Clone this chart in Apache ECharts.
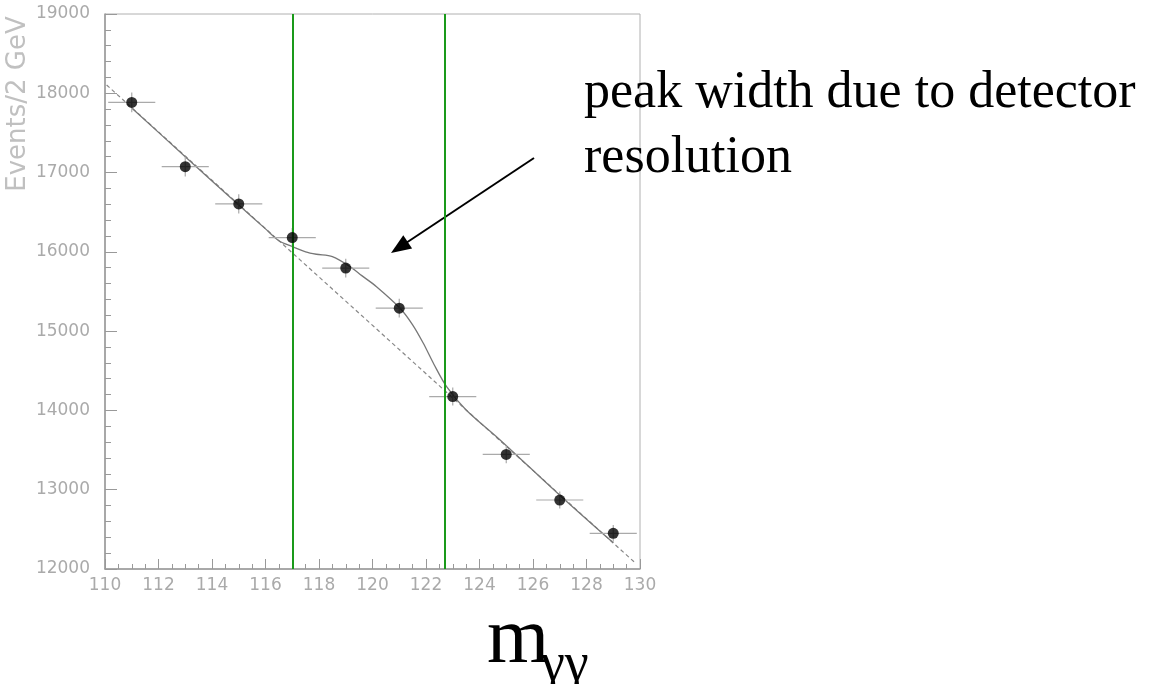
<!DOCTYPE html>
<html>
<head>
<meta charset="utf-8">
<script src="https://cdn.jsdelivr.net/npm/echarts@6/dist/echarts.min.js"></script>
<style>
html,body{margin:0;padding:0;background:#fff;}
#chart{width:1156px;height:684px;}
</style>
</head>
<body>
<div id="chart"></div>
<script>
// ---- data ----
const massBins = [111, 113, 115, 117, 119, 121, 123, 125, 127, 129];
const events = [17885, 17075, 16605, 16180, 15795, 15290, 14175, 13445, 12870, 12450];
const eventErrors = [125, 123, 121, 120, 118, 117, 113, 110, 108, 106];
const binHalfWidth = 0.88;

const fitMass = [111, 113, 115, 116, 116.5, 117, 117.5, 117.9, 118.5, 119.16, 119.6, 120.15, 121.03, 121.5, 121.9, 122.3, 122.77, 123.5, 124.77, 127, 129];
const fitEvents = [17815, 17200, 16590, 16290, 16140, 16066, 16000, 15970, 15940, 15814, 15700, 15561, 15289, 15080, 14847, 14580, 14300, 14006, 13628, 12930, 12330];

const bgMass = [110.06, 129.81];
const bgEvents = [18105, 12081];

const windowEdges = [117, 122.7];

const yAxisTitle = 'Events/2 GeV';
const noteLines = ['peak width due to detector', 'resolution'];

// ---- chart ----
const chart = echarts.init(document.getElementById('chart'));
const pts = massBins.map((m, i) => [m, events[i], eventErrors[i]]);

const option = {
  animation: false,
  backgroundColor: '#fff',
  grid: { left: 105, right: 516, top: 14, bottom: 115, show: true, borderColor: '#b0b0b0', borderWidth: 1 },
  xAxis: {
    type: 'value', min: 110, max: 130, interval: 2,
    axisLine: { show: true, lineStyle: { color: '#999', width: 1.5 } },
    axisTick: { show: true, inside: true, length: 10, lineStyle: { color: '#999' } },
    minorTick: { show: true, splitNumber: 4, length: 5, lineStyle: { color: '#999' } },
    splitLine: { show: false },
    axisLabel: { color: '#aaa', fontFamily: 'DejaVu Sans', fontSize: 17, margin: 8, formatter: v => String(v) }
  },
  yAxis: {
    type: 'value', min: 12000, max: 19000, interval: 1000,
    axisLine: { show: true, lineStyle: { color: '#999', width: 1.5 } },
    axisTick: { show: true, inside: true, length: 12, lineStyle: { color: '#999' } },
    minorTick: { show: true, splitNumber: 5, length: 6, lineStyle: { color: '#999' } },
    splitLine: { show: false },
    axisLabel: { color: '#aaa', fontFamily: 'DejaVu Sans', fontSize: 17, margin: 15, formatter: v => String(v) }
  },
  series: [
    {
      type: 'line', data: bgMass.map((m, i) => [m, bgEvents[i]]),
      symbol: 'none', lineStyle: { color: '#888', width: 1.2, type: [4, 3] }, z: 2
    },
    {
      type: 'line', data: fitMass.map((m, i) => [m, fitEvents[i]]),
      symbol: 'none', smooth: 0.3, lineStyle: { color: '#777', width: 1.3 }, z: 3
    },
    {
      type: 'custom', data: pts, z: 4,
      renderItem: function (params, api) {
        const x = api.value(0), y = api.value(1), e = api.value(2);
        const l = api.coord([x - binHalfWidth, y]);
        const r = api.coord([x + binHalfWidth, y]);
        const t = api.coord([x, y + e]);
        const b = api.coord([x, y - e]);
        const st = { stroke: '#aaa', lineWidth: 1.2 };
        return {
          type: 'group',
          children: [
            { type: 'line', shape: { x1: l[0], y1: l[1], x2: r[0], y2: r[1] }, style: st },
            { type: 'line', shape: { x1: t[0], y1: t[1], x2: b[0], y2: b[1] }, style: st }
          ]
        };
      }
    },
    {
      type: 'scatter', data: pts.map(p => [p[0], p[1]]),
      symbol: 'circle', symbolSize: 11, itemStyle: { color: '#000' }, z: 5
    },
    {
      type: 'line', data: [], z: 6,
      markLine: {
        silent: true, symbol: 'none', label: { show: false },
        lineStyle: { color: '#1a9a1a', width: 2, type: 'solid' },
        data: windowEdges.map(x => [{ coord: [x, 12000] }, { coord: [x, 19000] }])
      }
    }
  ],
  graphic: [
    {
      type: 'text', x: 18, y: 104, rotation: Math.PI / 2,
      style: { text: yAxisTitle, fill: '#c0c0c0', font: '26px "DejaVu Sans"', align: 'center', verticalAlign: 'middle' }
    },
    {
      type: 'text', x: 584, y: 93,
      style: { text: noteLines[0], fill: '#000', font: '52px "Liberation Serif"', align: 'left', verticalAlign: 'middle' }
    },
    {
      type: 'text', x: 584, y: 158,
      style: { text: noteLines[1], fill: '#000', font: '52px "Liberation Serif"', align: 'left', verticalAlign: 'middle' }
    },
    {
      type: 'line', shape: { x1: 534, y1: 158, x2: 406, y2: 243 },
      style: { stroke: '#000', lineWidth: 2 }
    },
    {
      type: 'polygon', shape: { points: [[391, 253], [412.1, 248.6], [403.3, 235.2]] },
      style: { fill: '#000' }
    },
    {
      type: 'text', x: 487, y: 641,
      style: { text: 'm', fill: '#000', font: '80px "Liberation Serif"', align: 'left', verticalAlign: 'middle' }
    },
    {
      type: 'text', x: 541, y: 666,
      style: { text: 'γγ', fill: '#000', font: '54px "Liberation Serif"', align: 'left', verticalAlign: 'middle' }
    }
  ]
};
chart.setOption(option);
</script>
</body>
</html>
